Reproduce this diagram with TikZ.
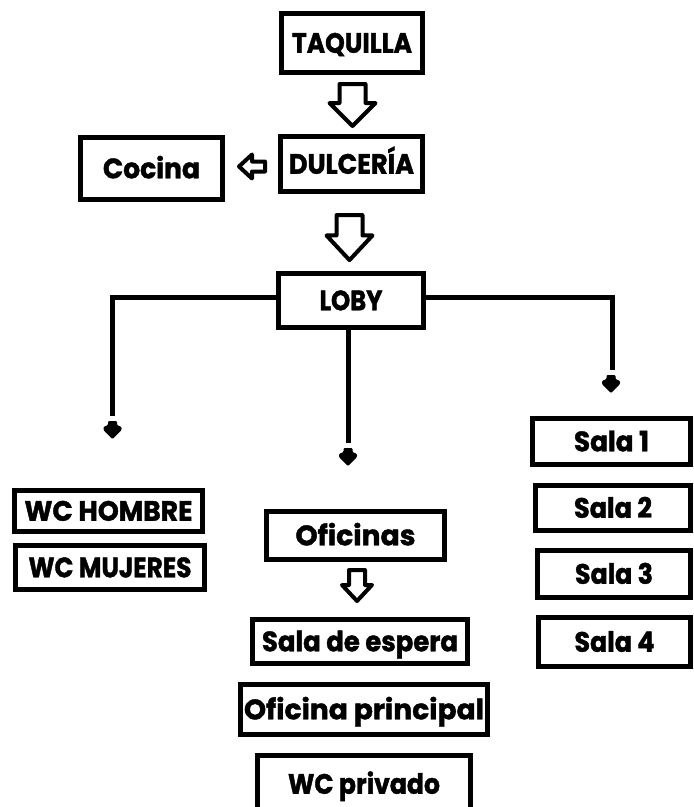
\documentclass[tikz,border=0pt]{standalone}
\usepackage{fontspec}
\setmainfont{Poppins}[BoldFeatures={FakeBold=1.5}]
\usepackage{graphicx}
\newcommand{\fitt}[2]{\resizebox{#1pt}{\height}{\fontsize{28}{30}\selectfont\bfseries #2}}
\begin{document}
\begin{tikzpicture}[x=1pt,y=-1pt,
  box/.style={draw=black, line width=5pt, inner sep=0pt, text height=19.5pt, text depth=0pt, align=center},
  sz/.style 2 args={minimum width=#1pt, minimum height=#2pt},
  conn/.style={draw=black, line width=5pt},
  hollow/.style={draw=black, line width=4pt, line join=round, fill=white},
  pics/bigdown/.style={code={\draw[hollow] (-13,2) -- (13,2) -- (13,21) -- (23,21) -- (0,44) -- (-23,21) -- (-13,21) -- cycle;}},
  pics/smalldown/.style={code={\draw[hollow] (-8,2) -- (8,2) -- (8,17) -- (15,17) -- (0,33) -- (-15,17) -- (-8,17) -- cycle;}},
  pics/leftarr/.style={code={\draw[hollow] (2,0) -- (15,-12) -- (15,-5) -- (28,-5) -- (28,5) -- (15,5) -- (15,12) -- cycle;}},
  pics/dtip/.style={code={\fill[black, rounded corners=1pt] (-4.5,0) -- (4.5,0) -- (4.5,4) -- (9,6) -- (9,9) -- (0,18) -- (-9,9) -- (-9,6) -- (-4.5,4) -- cycle;}}
]
\path[use as bounding box, fill=white] (0,0) rectangle (694,807);

% boxes
\node[box, sz={141}{59}] (taq) at (352,43) {\fitt{120}{TAQUILLA}};
\node[box, sz={142}{55}] (dul) at (351.5,164) {\fitt{125}{DULCERÍA}};
\node[box, sz={142}{62}] (coc) at (151.5,168.5) {\fitt{97}{Cocina}};
\node[box, sz={145}{54}] (loby) at (351,300.5) {\fitt{63}{LOBY}};
\node[box, sz={188}{41}] (wch) at (108.5,511) {\fitt{168}{WC HOMBRE}};
\node[box, sz={189}{44}] (wcm) at (110,567.5) {\fitt{163}{WC MUJERES}};
\node[box, sz={178}{48}] (ofi) at (355.5,535.5) {\fitt{120}{Oficinas}};
\node[box, sz={215}{44}] (esp) at (360,641.5) {\fitt{196}{Sala de espera}};
\node[box, sz={247}{50}] (pri) at (364,709.5) {\fitt{240}{Oficina principal}};
\node[box, sz={213}{57}] (wcp) at (364,784) {\fitt{152}{WC privado}};
\node[box, sz={158}{46}] (s1) at (611.5,441.5) {\fitt{75}{Sala 1}};
\node[box, sz={155}{45}] (s2) at (613,508) {\fitt{78}{Sala 2}};
\node[box, sz={153}{47}] (s3) at (614,574) {\fitt{78}{Sala 3}};
\node[box, sz={152}{49}] (s4) at (614.5,642) {\fitt{80}{Sala 4}};

% block arrows
\pic at (352.5,82) {bigdown};
\pic[yscale=1.07] at (349.5,213) {bigdown};
\pic at (357,568) {smalldown};
\pic at (237,166.5) {leftarr};

% connectors from LOBY
\coordinate (lend) at (112.5,416);
\coordinate (mend) at (348.5,443);
\coordinate (rend) at (612,370);
\draw[conn] ([yshift=3pt]loby.west) -| (lend);
\draw[conn] (loby.south -| mend) -- (mend);
\draw[conn] ([yshift=3pt]loby.east) -| (rend);

% small filled heads
\pic at (112.5,421) {dtip};
\pic at (348,448) {dtip};
\pic at (611,375) {dtip};
\end{tikzpicture}
\end{document}
